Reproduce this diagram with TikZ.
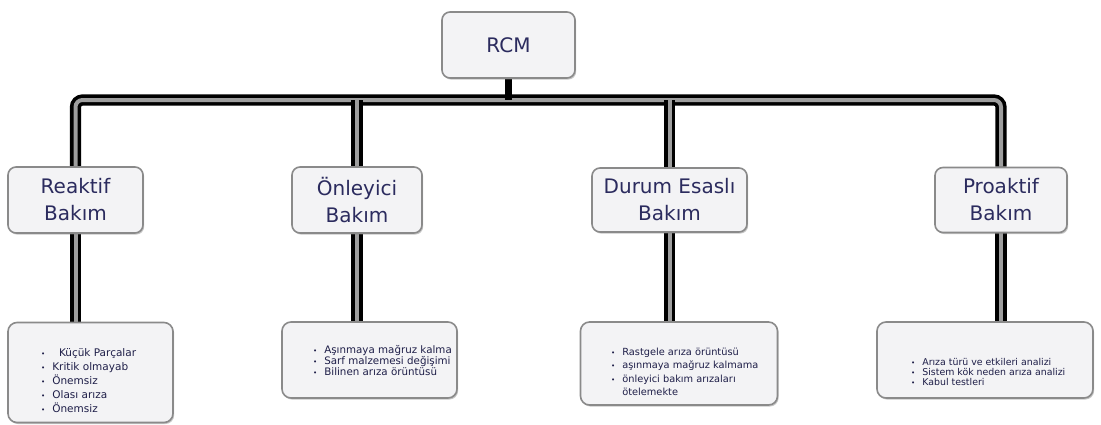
\documentclass[tikz,border=0pt]{standalone}
\usepackage{fontspec}
\setmainfont{DejaVu Sans}
\usetikzlibrary{shadows,backgrounds}
\definecolor{boxfill}{HTML}{F3F3F5}
\definecolor{boxline}{HTML}{8A8A8A}
\definecolor{headtext}{HTML}{2B2B5E}
\definecolor{listtext}{HTML}{1E1E48}
\tikzset{
  headbox/.style={draw=boxline, line width=1.6pt, fill=boxfill, rounded corners=8pt,
    align=center, text=headtext, inner sep=0pt,
    font=\fontsize{20}{27}\selectfont,
    drop shadow={shadow xshift=1.2pt, shadow yshift=-1.6pt, opacity=0.45}},
  listbox/.style={draw=boxline, line width=1.6pt, fill=boxfill, rounded corners=9pt,
    inner sep=0pt,
    drop shadow={shadow xshift=1.2pt, shadow yshift=-1.6pt, opacity=0.45}},
  listtxt/.style={anchor=base west, inner sep=0pt, text=listtext},
  bus/.style={line width=3.6pt, draw=black, double=black!38, double distance=4pt,
    rounded corners=7pt},
  stub/.style={line width=7pt, draw=black}
}
\newcommand{\bl}{{\scriptsize\textbullet}}
\begin{document}
\begin{tikzpicture}[x=1pt, y=-1pt]
\useasboundingbox (0,0) rectangle (1101,424);

% top level
\node[headbox, minimum width=133pt, minimum height=66pt] (rcm) at (508.5,45) {RCM};

% second level
\node[headbox, minimum width=135pt, minimum height=66pt] (reak) at (75.5,200) {Reaktif\\Bakım};
\node[headbox, minimum width=130pt, minimum height=66pt] (onl) at (357,200) {Önleyici\\Bakım};
\node[headbox, minimum width=155pt, minimum height=64pt] (dur) at (669.5,200) {Durum Esaslı\\Bakım};
\node[headbox, minimum width=132pt, minimum height=65pt] (pro) at (1001,200) {Proaktif\\Bakım};

% third level boxes
\node[listbox, minimum width=165pt, minimum height=100pt] (rlist) at (90.5,372.5) {};
\node[listbox, minimum width=175pt, minimum height=76pt] (olist) at (369.5,360) {};
\node[listbox, minimum width=197pt, minimum height=83pt] (dlist) at (679,363.5) {};
\node[listbox, minimum width=216pt, minimum height=76pt] (plist) at (985,360) {};

% list contents
\node[listtxt, font=\fontsize{10.5}{14}\selectfont] (rtxt) at (41,356) {%
  \begin{tabular}[t]{@{}l@{\hspace{7pt}}l@{}}
  \bl & \ \ Küçük Parçalar\\
  \bl & Kritik olmayab\\
  \bl & Önemsiz\\
  \bl & Olası arıza\\
  \bl & Önemsiz
  \end{tabular}};
\node[listtxt, font=\fontsize{10.3}{10.5}\selectfont] (otxt) at (313,353) {%
  \begin{tabular}[t]{@{}l@{\hspace{7pt}}l@{}}
  \bl & Aşınmaya mağruz kalma\\
  \bl & Sarf malzemesi değişimi\\
  \bl & Bilinen arıza örüntüsü
  \end{tabular}};
\node[listtxt, font=\fontsize{9.8}{13.5}\selectfont] (dtxt) at (611,355) {%
  \begin{tabular}[t]{@{}l@{\hspace{7pt}}l@{}}
  \bl & Rastgele arıza örüntüsü\\
  \bl & aşınmaya mağruz kalmama\\
  \bl & önleyici bakım arızaları\\
      & ötelemekte
  \end{tabular}};
\node[listtxt, font=\fontsize{9.4}{9.8}\selectfont] (ptxt) at (911,365) {%
  \begin{tabular}[t]{@{}l@{\hspace{7pt}}l@{}}
  \bl & Arıza türü ve etkileri analizi\\
  \bl & Sistem kök neden arıza analizi\\
  \bl & Kabul testleri
  \end{tabular}};

% connectors behind the boxes
\coordinate (bus) at (508.5,100);
\begin{scope}[on background layer]
  \draw[bus] (reak.north) -- (reak.north |- bus) -- (pro.north |- bus) -- (pro.north);
  \draw[stub] (rcm.south) -- (rcm.south |- bus);
  \draw[bus, rounded corners=0pt] (onl.north |- bus) -- (onl.north);
  \draw[bus, rounded corners=0pt] (dur.north |- bus) -- (dur.north);
  \draw[bus, rounded corners=0pt] (reak.south) -- (reak.south |- rlist.north);
  \draw[bus, rounded corners=0pt] (onl.south) -- (onl.south |- olist.north);
  \draw[bus, rounded corners=0pt] (dur.south) -- (dur.south |- dlist.north);
  \draw[bus, rounded corners=0pt] (pro.south) -- (pro.south |- plist.north);
\end{scope}
\end{tikzpicture}
\end{document}
